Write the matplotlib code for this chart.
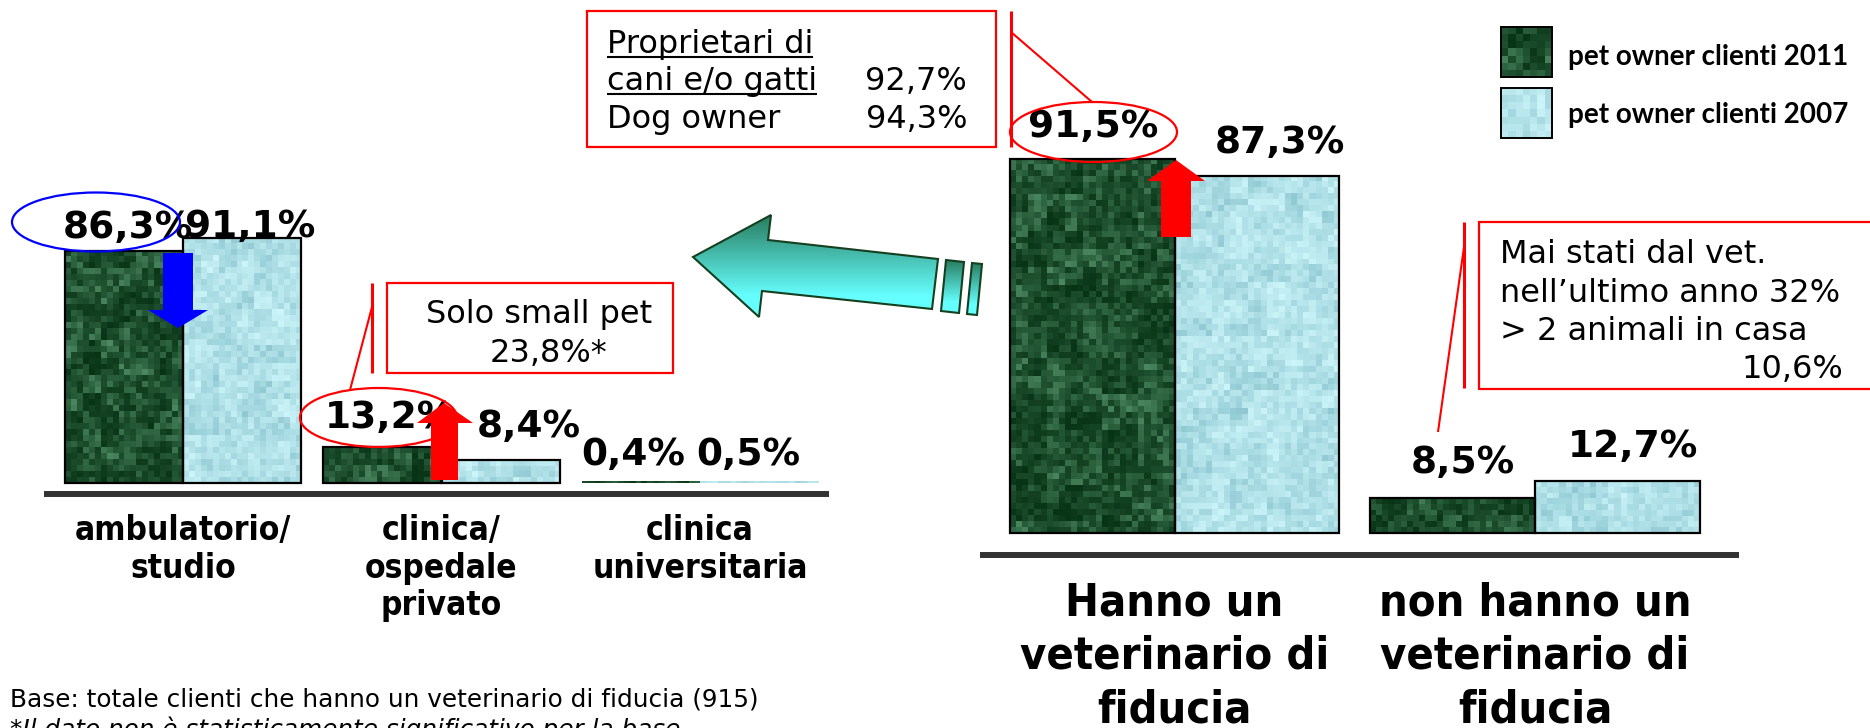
import numpy as np
import matplotlib
matplotlib.use('Agg')
import matplotlib.pyplot as plt
from matplotlib import font_manager
from matplotlib.patches import Ellipse, Polygon, Rectangle

# ----------------------------------------------------------------------------------------------------------------------
#  DATA
# ----------------------------------------------------------------------------------------------------------------------
series_names     = ['pet owner clienti 2011', 'pet owner clienti 2007']

left_categories  = ['ambulatorio/\nstudio', 'clinica/\nospedale\nprivato', 'clinica\nuniversitaria']
left_2011        = [86.3, 13.2, 0.4]
left_2007        = [91.1, 8.4, 0.5]

right_categories = ['Hanno un\nveterinario di\nfiducia', 'non hanno un\nveterinario di\nfiducia']
right_2011       = [91.5, 8.5]
right_2007       = [87.3, 12.7]

note_owners  = ['Proprietari di', 'cani e/o gatti', 'Dog owner']
note_owners_values = ['', '92,7%', '94,3%']
note_small   = ['Solo small pet', '23,8%*']
note_never   = ['Mai stati dal vet.', 'nell\u2019ultimo anno 32%', '> 2 animali in casa', '10,6%']
footnote     = ['Base: totale clienti che hanno un veterinario di fiducia (915)',
                '*Il dato non \u00e8 statisticamente significativo per la base']

# ----------------------------------------------------------------------------------------------------------------------
#  STYLE
# ----------------------------------------------------------------------------------------------------------------------
W, H = 1870, 728
RED  = '#ff0000'
NOTE_SIZE = 23

# label offsets in pixels (dx, dy) from the top centre of each bar
left_off_2011  = [(4, 13), (7.5, 19), (-8, 17)]
left_off_2007  = [(8, 1), (28.5, 23), (-11, 17)]
right_off_2011 = [(0.5, 22), (10, 25)]
right_off_2007 = [(23.5, 23), (15.5, 24)]

ttf = font_manager.fontManager.ttflist
condensed = any(f.name == 'DejaVu Sans' and f.stretch == 'condensed' for f in ttf)
cat_scale = 1.0 if condensed else 0.89
legend_family = 'Lato' if any(f.name == 'Lato' for f in ttf) else 'DejaVu Sans'

plt.rcParams['font.family'] = ['DejaVu Sans']


def mottle(nr, nc, k):
    """blocky hash texture in [0, 1]"""
    i, j = np.mgrid[0:nr, 0:nc]
    v = np.sin(i * 12.9898 + j * 78.233 + k * 4.1414) * 43758.5453
    fine = v - np.floor(v)
    i2, j2 = np.mgrid[0:nr // 3 + 2, 0:nc // 3 + 2]
    v2 = np.sin(i2 * 39.346 + j2 * 11.135 + k * 7.77) * 24634.6345
    coarse = (v2 - np.floor(v2)).repeat(3, 0).repeat(3, 1)[:nr, :nc]
    return 0.55 * fine + 0.45 * coarse


def texture(nr, nc, kind, k):
    t = mottle(nr, nc, k)[..., None]
    if kind == 0:
        dark  = np.array([8, 52, 22]) / 255
        light = np.array([78, 140, 100]) / 255
        t = t ** 1.8
    else:
        dark  = np.array([140, 198, 208]) / 255
        light = np.array([205, 246, 250]) / 255
        t = t ** 0.8
    return dark + t * (light - dark)


fig = plt.figure(figsize=(W / 100, H / 100), dpi=100)
fig.patch.set_facecolor('white')


def px_axes(x0, x1, y_top, y_bot, **kw):
    return fig.add_axes([x0 / W, 1 - y_bot / H, (x1 - x0) / W, (y_bot - y_top) / H], **kw)


def pct(v):
    return f'{v:.1f}%'.replace('.', ',')


def draw_group_chart(ax, cats, v2011, v2007, off2011, off2007, width, base_y, cat_size, cat_pad, cat_space, seed):
    x = np.arange(len(cats))
    xl, yl = ax.get_xlim(), ax.get_ylim()
    bbox = ax.get_position()
    px_x = bbox.width * W / (xl[1] - xl[0])
    px_y = bbox.height * H / (yl[1] - yl[0])
    for s, (vals, offs) in enumerate([(v2011, off2011), (v2007, off2007)]):
        xs = x - width / 2 + s * width
        bars = ax.bar(xs, vals, width, facecolor='none', edgecolor='black', linewidth=1.6, zorder=3)
        for i, b in enumerate(bars):
            # very short bars show no outline
            if vals[i] * px_y < 4:
                b.set_linewidth(0)
            nc = max(1, int(round(width * px_x / 6)))
            nr = max(1, int(round(vals[i] * px_y / 6)))
            ax.imshow(texture(nr, nc, s, seed + 10 * i + s), extent=(b.get_x(), b.get_x() + width, 0, vals[i]),
                      aspect='auto', interpolation='nearest', zorder=2)
            ax.annotate(pct(vals[i]), xy=(xs[i], vals[i]), xytext=offs[i], textcoords='offset pixels',
                        ha='center', va='baseline', fontsize=27, fontweight='bold', zorder=4,
                        annotation_clip=False)
    ax.axhline(base_y, color='#333333', linewidth=4.3, solid_capstyle='butt', zorder=1)
    ax.set_xlim(xl)
    ax.set_ylim(yl)
    ax.set_xticks(x, cats)
    ax.tick_params(axis='x', length=0, pad=cat_pad)
    for lab in ax.get_xticklabels():
        lab.set_fontsize(cat_size * cat_scale)
        lab.set_fontweight('bold')
        lab.set_fontstretch('condensed')
        lab.set_linespacing(cat_space)
    ax.set_yticks([])
    for sp in ax.spines.values():
        sp.set_visible(False)
    ax.patch.set_visible(False)


# left chart: where owners take their pets
ax_l = px_axes(44, 829, 483 - 100 * 2.69, 483 + 6 * 2.69)
ax_l.set_xlim((44 - 183) / 258.5, (829 - 183) / 258.5)
ax_l.set_ylim(-6, 100)
draw_group_chart(ax_l, left_categories, left_2011, left_2007, left_off_2011, left_off_2007,
                 0.4565, -4.09, 24, 11, 1.16, 1)

# right chart: trusted vet or not
ax_r = px_axes(980, 1739, 533 - 100 * 4.09, 533 + 6 * 4.09)
ax_r.set_xlim((980 - 1174.5) / 360.5, (1739 - 1174.5) / 360.5)
ax_r.set_ylim(-6, 100)
draw_group_chart(ax_r, right_categories, right_2011, right_2007, right_off_2011, right_off_2007,
                 0.4565, -5.38, 32.4, 17, 1.31, 7)

# overlay in pixel coordinates for callouts, arrows and legend
ov = fig.add_axes([0, 0, 1, 1], zorder=5)
ov.set_xlim(0, W)
ov.set_ylim(H, 0)
ov.axis('off')


def box(x0, y0, x1, y1):
    ov.add_patch(Rectangle((x0, y0), x1 - x0, y1 - y0, facecolor='white', edgecolor=RED, linewidth=1.6))


def red_line(xs, ys, lw=1.5):
    ov.plot(xs, ys, color=RED, linewidth=lw, solid_capstyle='butt')


# ellipses around highlighted values
ov.add_patch(Ellipse((96, 222), 168, 59, facecolor='none', edgecolor='#0000ff', linewidth=1.6))
ov.add_patch(Ellipse((378.5, 417.5), 157, 59, facecolor='none', edgecolor=RED, linewidth=1.6))
ov.add_patch(Ellipse((1093.5, 132), 167, 60, facecolor='none', edgecolor=RED, linewidth=1.6))

# arrows showing the change from 2007 to 2011
ov.add_patch(Polygon([(163, 253), (193, 253), (193, 310), (208, 310), (178, 328), (148, 310), (163, 310)],
                     closed=True, facecolor='#0000ff', edgecolor='none'))
ov.add_patch(Polygon([(431, 480), (458, 480), (458, 423), (473, 423), (444, 403), (417, 423), (431, 423)],
                     closed=True, facecolor=RED, edgecolor='none'))
ov.add_patch(Polygon([(1161, 237), (1191, 237), (1191, 181), (1205, 181), (1176, 160), (1147, 181), (1161, 181)],
                     closed=True, facecolor=RED, edgecolor='none'))

# big teal arrow with vertical gradient
grad = np.linspace(0, 1, 128)[:, None]
top_c = np.array([40, 125, 95]) / 255
bot_c = np.array([102, 255, 255]) / 255
grad_img = top_c + np.clip(grad * 1.25, 0, 1)[..., None] * (bot_c - top_c)
grad_img = np.repeat(grad_img, 2, axis=1)
arrow_shapes = [
    [(693, 257), (771, 215), (768, 240), (938, 259), (932, 309), (762, 291), (759, 317)],
    [(946, 260), (964, 262), (959, 313), (941, 311)],
    [(972, 263), (982, 264), (977, 315), (967, 314)],
]
for pts in arrow_shapes:
    poly = Polygon(pts, closed=True, facecolor='none', edgecolor='#14401f', linewidth=1.5, zorder=3)
    ov.add_patch(poly)
    xs = [p[0] for p in pts]
    ys = [p[1] for p in pts]
    im = ov.imshow(grad_img, extent=(min(xs), max(xs), max(ys), min(ys)), origin='upper',
                   aspect='auto', interpolation='bilinear', zorder=2)
    im.set_clip_path(poly)

# callout: owners of dogs and cats
box(587, 11, 996, 147)
red_line([1011, 1011], [11, 147], lw=2.2)
red_line([1011, 1092], [32, 102])
owner_texts = []
for k, (t, v) in enumerate(zip(note_owners, note_owners_values)):
    yb = [53, 90, 128][k]
    owner_texts.append(ov.text(607, yb, t, fontsize=NOTE_SIZE, va='baseline', ha='left'))
    if v:
        ov.text(967, yb, v, fontsize=NOTE_SIZE, va='baseline', ha='right')

# callout: small pets only
box(387, 283, 673, 373)
red_line([372, 372], [283, 373], lw=2.2)
red_line([372, 350], [307, 390])
ov.text(539, 323, note_small[0], fontsize=NOTE_SIZE, va='baseline', ha='center')
ov.text(490, 362, note_small[1], fontsize=NOTE_SIZE, va='baseline', ha='left')

# callout: no trusted vet
box(1479, 222, 1885, 389)
red_line([1464, 1464], [222, 388], lw=2.2)
red_line([1464, 1438], [247, 432])
for k, t in enumerate(note_never[:3]):
    ov.text(1500, [263, 302, 340][k], t, fontsize=NOTE_SIZE, va='baseline', ha='left')
ov.text(1843, 378, note_never[3], fontsize=NOTE_SIZE, va='baseline', ha='right')

# legend
for k, name in enumerate(series_names):
    y0 = [27, 88][k]
    ov.imshow(texture(7, 7, k, 40 + k), extent=(1501, 1552, y0 + 50, y0), origin='upper',
              aspect='auto', interpolation='nearest', zorder=2)
    ov.add_patch(Rectangle((1501, y0), 51, 50, facecolor='none', edgecolor='black', linewidth=1.4, zorder=3))
    ov.text(1568, [65, 123][k], name, fontsize=20, fontweight='bold', family=legend_family,
            va='baseline', ha='left')

# footnotes
ov.text(10, 706, footnote[0], fontsize=17.8, va='baseline', ha='left')
ov.text(10, 737, footnote[1], fontsize=17.8, style='italic', va='baseline', ha='left')

ov.set_xlim(0, W)
ov.set_ylim(H, 0)

# underline the first two lines of the owners callout
fig.canvas.draw()
inv = ov.transData.inverted()
for t, yb in zip(owner_texts[:2], [57, 94]):
    bb = t.get_window_extent()
    x0 = inv.transform((bb.x0, 0))[0]
    x1 = inv.transform((bb.x1, 0))[0]
    ov.plot([x0, x1], [yb, yb], color='black', linewidth=1.5, solid_capstyle='butt')

fig.savefig('out.png', dpi=100, facecolor='white')
